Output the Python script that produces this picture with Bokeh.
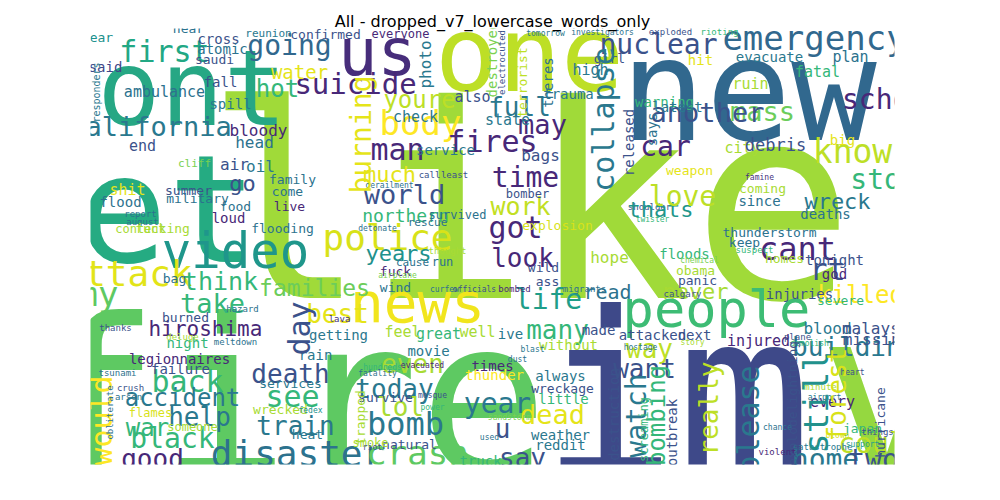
from bokeh.plotting import figure, ColumnDataSource
from bokeh.embed import file_html
from bokeh.resources import INLINE
from bokeh.models import Range1d
from bokeh.core.properties import value
import math

# words of the cloud, their font size (word weight), colour and rotation
words = ["like", "fire", "im", "get", "new", "via", "dont", "one", "us", "news", "people", "video",
         "first", "going", "suicide", "hot", "water", "california", "bloody", "head", "end", "air", "oil",
         "attack", "army", "think", "take", "families", "much", "world", "northern", "police", "years",
         "time", "work", "got", "look", "life", "cant", "never", "read", "rt", "killed", "storm", "know",
         "car", "mass", "nuclear", "emergency", "youre", "full", "body", "may", "fires", "man", "check",
         "state", "also", "high", "trauma", "everyone", "hiroshima", "back", "accident", "help", "war",
         "black", "good", "disaster", "death", "see", "train", "best", "even", "today", "lol", "bomb",
         "crash", "year", "dead", "u", "say", "many", "way", "want", "buildings", "could", "home", "two",
         "injured", "blood", "great", "well", "feel", "movie", "times", "thunder", "always", "wreckage",
         "little", "weather", "reddit", "truck", "natural", "survive", "smoke", "without", "made", "ive",
         "go", "family", "summer", "military", "flood", "shit", "fucking", "flooding", "loud", "food",
         "live", "come", "bag", "rescue", "cause", "run", "fuck", "wind", "bomber", "wild", "ass", "hope",
         "coming", "since", "weapon", "thunderstorm", "keep", "homes", "tonight", "floods", "obama",
         "panic", "injuries", "severe", "god", "evacuate", "hit", "plan", "ruin", "city", "debris", "big",
         "girl", "burned", "getting", "night", "legionnaires", "failure", "rain", "services", "wrecked",
         "heat", "someone", "flames", "attacked", "next", "every", "service", "bags", "reunion",
         "confirmed", "fear", "near", "cross", "atomic", "saudi", "cliff", "malaysia", "missing", "japan",
         "call", "least", "derailment", "detonate", "thought", "airplane", "curfew", "officials", "bombed",
         "migrants", "famine", "shoulder", "twister", "suspect", "chemical", "calgary", "hostage", "story",
         "plane", "demolish", "heart", "minute", "airport", "blown", "things", "catastrophe", "support",
         "violent", "chance", "hundreds", "fatality", "evacuated", "mosque", "power", "sandstorm", "used",
         "riot", "blast", "dust", "fedex", "exploded", "rioting", "investigators", "tomorrow", "report",
         "august", "thanks", "deluge", "meltdown", "tsunami", "crush", "arson", "lava", "hazard",
         "ambulance", "fall", "spill", "said", "content", "survived", "explosion", "thats", "love",
         "wreck", "deaths", "another", "school", "fatal", "warning", "latest", "released", "collapse",
         "photo", "destroyed", "terrorist", "theres", "burning", "day", "would", "trapped", "destruction",
         "watch", "bombing", "outbreak", "really", "please", "explodelightning", "still", "forest",
         "hurricane", "says", "screaming", "responders", "obliterate", "electrocuted"]

sizes = [270, 215, 225, 150, 142, 230, 105, 105, 65, 56, 52, 49,
         30, 28, 29, 24, 19, 27, 16, 16, 15, 16, 16,
         36, 34, 25, 27, 23, 22, 27, 18, 36, 22,
         28, 25, 30, 26, 28, 32, 22, 20, 30, 24, 28, 33,
         28, 27, 28, 34, 24, 26, 34, 27, 30, 30, 15,
         15, 15, 15, 14, 12, 21, 30, 24, 26, 24,
         28, 26, 36, 26, 30, 26, 26, 26, 26, 26, 32,
         34, 28, 27, 26, 26, 26, 26, 26, 26, 28, 28, 28,
         15, 16, 15, 15, 15, 14, 14, 14, 14, 13,
         14, 14, 14, 14, 13, 13, 12, 14, 14, 14,
         22, 13, 13, 13, 14, 15, 13, 13, 14, 13,
         13, 13, 13, 11, 11, 12, 13, 13, 12, 13, 13, 16,
         13, 14, 13, 13, 13, 13, 14, 14, 13,
         13, 14, 13, 14, 14, 14, 15, 15, 15, 17, 14,
         13, 13, 14, 14, 14, 14, 14, 13, 13,
         13, 12, 12, 14, 14, 15, 14, 16, 11,
         13, 13, 13, 14, 14, 13, 11, 16, 16, 13,
         9, 9, 8, 8, 9, 8, 8, 8, 9,
         9, 8, 9, 8, 9, 8, 9, 8, 8,
         9, 8, 8, 9, 8, 8, 9, 9, 8,
         9, 8, 8, 8, 8, 8, 8, 8, 8,
         8, 8, 8, 8, 9, 9, 8, 8, 9,
         9, 9, 9, 9, 9, 9, 9, 9, 9,
         15, 14, 14, 14, 12, 12, 13, 22, 28,
         22, 14, 27, 28, 15, 14, 14, 14, 30,
         16, 14, 13, 14, 28, 30, 30, 13, 14,
         28, 24, 14, 26, 30, 13, 34, 26,
         13, 14, 12, 10, 9, 9]

colors = ["#a0da39", "#5ec962", "#3e4989", "#25ab82", "#31688e", "#95d840", "#26a784", "#bddf26", "#472d7b", "#f1e51d", "#3dbc74", "#1f968b",
          "#22a884", "#31688e", "#482878", "#35b779", "#e5e419", "#2a788e", "#482878", "#2c728e", "#3b528b", "#3b528b", "#2a788e",
          "#e2e418", "#5ec962", "#35b779", "#35b779", "#6ccd5a", "#e5e419", "#3b528b", "#35b779", "#d8e219", "#21918c",
          "#482878", "#c2df23", "#482878", "#482878", "#1f9e89", "#482878", "#a8db34", "#2c728e", "#3b528b", "#fde725", "#35b779", "#bddf26",
          "#482878", "#6ccd5a", "#3b528b", "#31688e", "#bddf26", "#2a788e", "#fde725", "#482878", "#482878", "#482878", "#2a788e",
          "#2a788e", "#3b528b", "#2a788e", "#2a788e", "#482878", "#482878", "#35b779", "#2a788e", "#2a788e", "#35b779",
          "#35b779", "#482878", "#2c728e", "#3b528b", "#35b779", "#2a788e", "#e5e419", "#a8db34", "#2a788e", "#a8db34", "#2a788e",
          "#5ec962", "#2a788e", "#e5e419", "#3b528b", "#3b528b", "#35b779", "#bddf26", "#3b528b", "#2a788e", "#bddf26", "#2a788e", "#3b528b",
          "#482878", "#2a788e", "#35b779", "#a8db34", "#a8db34", "#2a788e", "#482878", "#fde725", "#2a788e", "#3b528b",
          "#35b779", "#2a788e", "#2a788e", "#35b779", "#3b528b", "#3b528b", "#a8db34", "#a8db34", "#3b528b", "#2a788e",
          "#3b528b", "#2c728e", "#3b528b", "#2c728e", "#2c728e", "#e5e419", "#a8db34", "#2c728e", "#482878", "#2c728e",
          "#482878", "#2c728e", "#2c728e", "#2c728e", "#2c728e", "#2c728e", "#482878", "#2c728e", "#3b528b", "#3b528b", "#3b528b", "#a8db34",
          "#a8db34", "#2c728e", "#e5e419", "#2c728e", "#2c728e", "#a8db34", "#3b528b", "#35b779", "#a8db34",
          "#3b528b", "#3b528b", "#35b779", "#482878", "#2a788e", "#e5e419", "#2c728e", "#a8db34", "#a8db34", "#3b528b", "#e5e419",
          "#3b528b", "#3b528b", "#2a788e", "#35b779", "#482878", "#3b528b", "#2a788e", "#2a788e", "#a8db34",
          "#2a788e", "#a8db34", "#d8e219", "#3b528b", "#3b528b", "#482878", "#2a788e", "#3b528b", "#2a788e",
          "#3b528b", "#21918c", "#2c728e", "#3b528b", "#2c728e", "#3b528b", "#7ad151", "#3b528b", "#3b528b", "#35b779",
          "#3b528b", "#3b528b", "#2c728e", "#2c728e", "#a8db34", "#7ad151", "#2c728e", "#3b528b", "#482878",
          "#2c728e", "#46327e", "#3b528b", "#35b779", "#35b779", "#7ad151", "#3b528b", "#2a788e", "#a8db34",
          "#3b528b", "#35b779", "#3b528b", "#a8db34", "#2a788e", "#d8e219", "#3b528b", "#2a788e", "#1f9e89",
          "#482878", "#2c728e", "#35b779", "#2c728e", "#482878", "#3b528b", "#35b779", "#7ad151", "#2c728e",
          "#3b528b", "#2a788e", "#2c728e", "#21918c", "#3b528b", "#35b779", "#2c728e", "#2a788e", "#2c728e",
          "#2c728e", "#3b528b", "#a8db34", "#2c728e", "#2c728e", "#3b528b", "#2c728e", "#46327e", "#2c728e",
          "#2c728e", "#3b528b", "#2a788e", "#3f4788", "#a8db34", "#2c728e", "#d8e219", "#1f968b", "#bddf26",
          "#2a788e", "#2c728e", "#3b528b", "#482878", "#35b779", "#35b779", "#2a788e", "#3b528b", "#2a788e",
          "#2a788e", "#7ad151", "#bddf26", "#2c728e", "#e5e419", "#3b528b", "#fde725", "#a8db34", "#3b528b",
          "#2a788e", "#35b779", "#3b528b", "#bddf26", "#2a788e", "#3b528b", "#21918c", "#d8e219",
          "#3b528b", "#2c728e", "#35b779", "#2a788e", "#2c728e", "#3b528b"]

n_flat = 249
vertical = [0] * n_flat + [1] * 39

# layout of the cloud in page pixels (centre of the x-height band)
cx = [537, 297, 684, 130, 756, 1033, 168, 537, 385, 425, 724, 243,
      172, 297, 363, 285, 307, 158, 266, 262, 150, 242, 268,
      135, 85, 228, 220, 322, 397, 412, 413, 395, 406,
      533, 528, 523, 530, 556, 805, 703, 615, 835, 868, 900, 860,
      673, 770, 666, 822, 427, 527, 428, 550, 500, 405, 423,
      515, 480, 598, 576, 408, 213, 195, 190, 207, 155,
      180, 160, 305, 298, 300, 303, 345, 420, 402, 408, 413,
      425, 505, 560, 510, 530, 565, 657, 652, 870, 888, 833, 881,
      766, 835, 446, 485, 410, 436, 500, 502, 568, 570,
      571, 568, 568, 488, 417, 393, 378, 576, 606, 518,
      250, 300, 196, 205, 128, 135, 170, 290, 236, 243,
      297, 295, 182, 435, 420, 450, 403, 403, 535, 551, 555, 617,
      770, 767, 697, 777, 752, 792, 842, 692, 703,
      705, 807, 848, 842, 777, 708, 858, 758, 750, 783, 850,
      617, 193, 346, 195, 187, 188, 323, 298, 288,
      315, 200, 158, 660, 702, 840, 453, 548, 276,
      333, 105, 196, 226, 230, 222, 202, 888, 884, 870,
      437, 462, 397, 385, 455, 405, 452, 482, 522,
      592, 767, 657, 660, 762, 707, 690, 648, 700,
      805, 817, 860, 828, 832, 845, 885, 830, 870,
      785, 785, 390, 385, 430, 440, 440, 517, 497,
      380, 540, 525, 318, 678, 727, 610, 553, 148,
      150, 123, 190, 243, 125, 138, 136, 347, 250,
      172, 228, 238, 113, 148, 465, 565, 668, 690,
      845, 833, 715, 900, 825, 672, 685, 637, 612,
      433, 500, 530, 556, 370, 308, 110, 368, 622,
      645, 665, 680, 717, 757, 800, 825, 845,
      888, 660, 652, 104, 118, 510]

cy = [220, 412, 409, 222, 102, 408, 100, 66, 62, 312, 318, 260,
      60, 54, 92, 97, 80, 135, 138, 150, 154, 172, 174,
      282, 303, 290, 312, 296, 183, 203, 224, 246, 262,
      186, 215, 236, 266, 308, 257, 300, 300, 278, 303, 188, 160,
      155, 120, 53, 47, 108, 115, 132, 133, 150, 158, 125,
      128, 105, 78, 102, 42, 337, 390, 406, 425, 436,
      447, 467, 462, 382, 405, 434, 322, 372, 397, 415, 432,
      462, 412, 423, 437, 466, 338, 357, 377, 355, 452, 468, 468,
      349, 336, 342, 340, 340, 359, 374, 383, 384, 396,
      407, 443, 453, 469, 452, 405, 451, 353, 338, 342,
      192, 187, 198, 206, 210, 198, 236, 236, 226, 214,
      214, 199, 286, 230, 270, 270, 279, 295, 202, 275, 289, 265,
      196, 209, 178, 240, 250, 266, 268, 262, 278,
      288, 302, 308, 282, 65, 68, 65, 92, 156, 153, 148,
      66, 325, 343, 351, 367, 377, 363, 391, 417,
      442, 435, 421, 343, 343, 410, 158, 163, 41,
      42, 45, 36, 47, 57, 67, 171, 336, 347, 436,
      183, 183, 193, 236, 259, 283, 297, 297, 297,
      297, 185, 215, 227, 258, 268, 302, 355, 350,
      345, 351, 380, 395, 405, 443, 440, 455, 452,
      460, 435, 375, 381, 373, 403, 415, 425, 445,
      455, 357, 367, 418, 40, 40, 40, 41, 222,
      230, 336, 345, 350, 381, 396, 405, 327, 317,
      100, 90, 112, 75, 237, 223, 233, 218, 205,
      210, 222, 121, 108, 80, 110, 115, 150, 127,
      72, 67, 90, 90, 142, 336, 428, 425, 422,
      423, 423, 440, 416, 427, 411, 410, 402,
      430, 137, 437, 100, 420, 70]

p = figure(width=984, height=484, output_backend="svg", toolbar_location=None,
           x_range=Range1d(98, 902), y_range=Range1d(472, 36),
           min_border_left=90, min_border_right=90, min_border_top=28, min_border_bottom=20,
           title="All - dropped_v7_lowercase_words_only")
p.title.align = "center"
p.title.text_font = "DejaVu Sans"
p.title.text_font_size = "16px"
p.title.text_font_style = "normal"
p.title.text_color = "black"
p.title.standoff = -4
p.axis.visible = False
p.xgrid.grid_line_color = None
p.ygrid.grid_line_color = None
p.outline_line_color = None
p.background_fill_color = "white"
p.border_fill_color = "white"

# the svg text sits about 0.3 em below its anchor, so anchor just above the x-height centre
xs, ys, fs, ang = [], [], [], []
for i in range(len(words)):
    f = sizes[i]
    if vertical[i]:
        xs.append(cx[i] - 0.03 * f)
        ys.append(cy[i])
        ang.append(math.pi / 2)
    else:
        xs.append(cx[i])
        ys.append(cy[i] - 0.03 * f)
        ang.append(0)
    fs.append(str(f) + "px")

source = ColumnDataSource({"x": xs, "y": ys, "w": words, "fs": fs, "c": colors, "a": ang})
p.text(x="x", y="y", text="w", text_font_size="fs", text_color="c", angle="a", source=source,
       text_align="center", text_baseline="alphabetic", text_font=value("DejaVu Sans Mono"))

open("out.html", "w").write(file_html(p, INLINE))
